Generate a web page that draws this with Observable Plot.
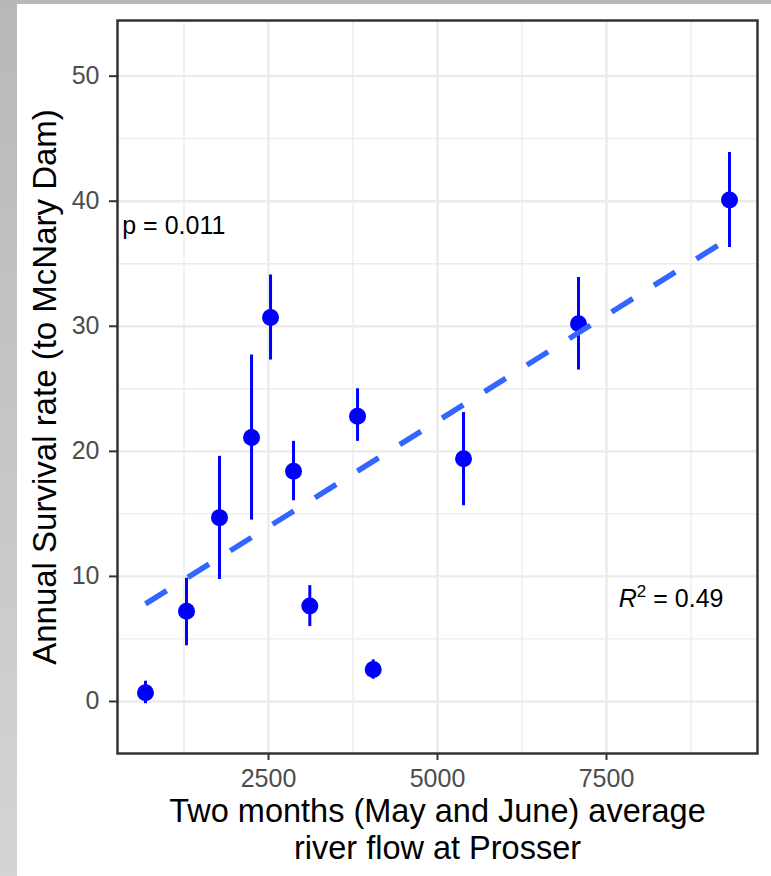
<!DOCTYPE html>
<html>
<head>
<meta charset="utf-8">
<script src="https://cdn.jsdelivr.net/npm/d3@7"></script>
<script src="https://cdn.jsdelivr.net/npm/@observablehq/plot@0.6"></script>
<style>
  html, body { margin: 0; padding: 0; }
  body {
    width: 771px; height: 876px; position: relative; overflow: hidden;
    background: linear-gradient(#b8b8b8, #d4d4d4);
    font-family: "Liberation Sans", Arial, Helvetica, sans-serif;
  }
  #sheet { position: absolute; left: 17px; top: 4px; width: 754px; height: 872px; background: #fff; }
</style>
</head>
<body>
<div id="sheet"></div>
<script>
// Mean May–June river flow at Prosser and annual survival to McNary Dam (%)
const flow         = [680, 1287, 1775, 2249, 2530, 2870, 3111, 3817, 4049, 5385, 7086, 9320];
const survival     = [0.69, 7.21, 14.7, 21.1, 30.7, 18.4, 7.64, 22.8, 2.56, 19.4, 30.2, 40.1];
const survivalLow  = [-0.18, 4.45, 9.75, 14.5, 27.3, 16.05, 5.99, 20.8, 1.78, 15.65, 26.5, 36.3];
const survivalHigh = [1.62, 9.85, 19.6, 27.7, 34.1, 20.8, 9.26, 25.0, 3.33, 23.1, 33.9, 43.9];

const xTicks = [2500, 5000, 7500];
const xMinor = [1250, 3750, 6250, 8750];
const yTicks = [0, 10, 20, 30, 40, 50];
const yMinor = [5, 15, 25, 35, 45];

const pText = "p = 0.011";
const r2Text = "0.49";
const xTitle = "Two months (May and June) average\nriver flow at Prosser";
const yTitle = "Annual Survival rate (to McNary Dam)";

const obs = flow.map((f, i) => ({flow: f, survival: survival[i], low: survivalLow[i], high: survivalHigh[i]}));

const font = "'Liberation Sans', Arial, Helvetica, sans-serif";
const grid = "#ebebeb";
const ink = "#333333";

const chart = Plot.plot({
  width: 754,
  height: 872,
  marginLeft: 100,
  marginRight: 14,
  marginTop: 16,
  marginBottom: 123,
  style: {fontFamily: font, background: "white", overflow: "visible"},
  x: {domain: [266, 9734]},
  y: {domain: [-4.16, 54.45]},
  marks: [
    Plot.ruleX(xMinor, {stroke: grid, strokeWidth: 1.3}),
    Plot.ruleY(yMinor, {stroke: grid, strokeWidth: 1.3}),
    Plot.ruleX(xTicks, {stroke: grid, strokeWidth: 2.4}),
    Plot.ruleY(yTicks, {stroke: grid, strokeWidth: 2.4}),
    Plot.ruleX(obs, {x: "flow", y1: "low", y2: "high", stroke: "#0000ff", strokeWidth: 3}),
    Plot.dot(obs, {x: "flow", y: "survival", r: 8.5, fill: "#0000ff", stroke: "none"}),
    Plot.linearRegressionY(obs, {
      x: "flow", y: "survival", ci: 0,
      stroke: "#3366ff", strokeWidth: 5.5, strokeDasharray: "25,25", strokeLinecap: "butt"
    }),
    Plot.frame({stroke: ink, strokeWidth: 2.5}),
    Plot.axisX(xTicks, {
      tickSize: 7, tickPadding: 9, fontSize: 25, fill: "#4d4d4d",
      stroke: ink, strokeWidth: 2, label: null, tickFormat: d => String(d)
    }),
    Plot.axisY(yTicks, {
      tickSize: 8, tickPadding: 10, fontSize: 25, fill: "#4d4d4d",
      stroke: ink, strokeWidth: 2, label: null, tickFormat: d => String(d)
    }),
    Plot.text([{x: 336, y: 37.39, label: pText}], {
      x: "x", y: "y", text: "label", textAnchor: "start", lineAnchor: "bottom",
      fontSize: 25, fill: "black"
    }),
    Plot.text([{x: 7682, y: 7.59, label: "R2 = " + r2Text}], {
      x: "x", y: "y", text: "label", textAnchor: "start", lineAnchor: "bottom",
      fontSize: 25, fill: "black"
    }),
    Plot.text([xTitle], {
      text: d => d, frameAnchor: "bottom", dy: 43, lineAnchor: "top", textAnchor: "middle",
      lineHeight: 1.12, fontSize: 32.5, fill: "black"
    }),
    Plot.text([yTitle], {
      text: d => d, frameAnchor: "left", rotate: -90, dx: -62, lineAnchor: "bottom",
      textAnchor: "middle", fontSize: 33, fill: "black"
    })
  ]
});

// italic R with a superscript 2
d3.select(chart).selectAll("text").filter(function() {
  return this.textContent === "R2 = " + r2Text;
}).each(function() {
  const t = d3.select(this);
  t.text(null);
  t.append("tspan").attr("font-style", "italic").text("R");
  t.append("tspan").attr("font-size", 17).attr("dy", -10).text("2");
  t.append("tspan").attr("dy", 10).text(" = " + r2Text);
});

document.getElementById("sheet").appendChild(chart);
</script>
</body>
</html>
